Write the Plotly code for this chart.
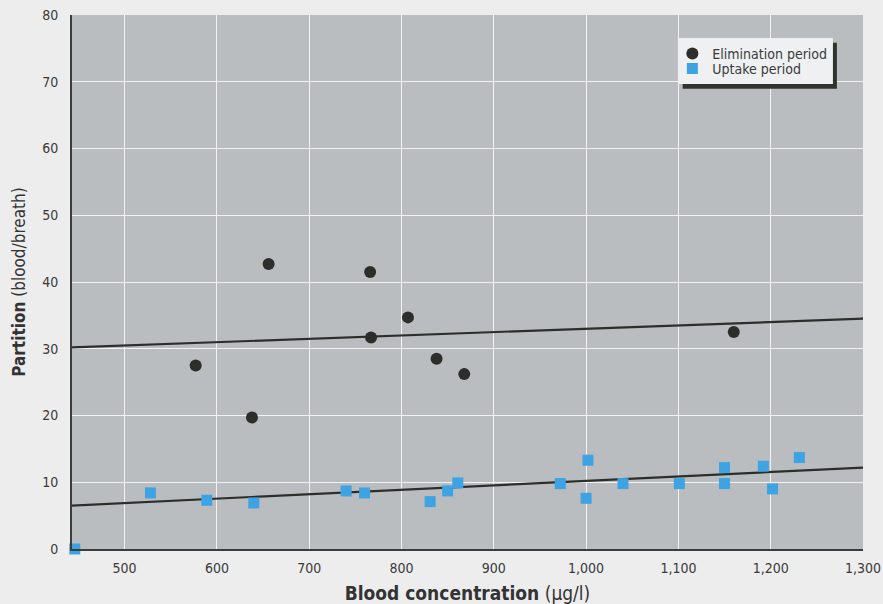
import plotly.graph_objects as go

# ---- data ----
elim_x = [577, 638, 656, 766, 767, 807, 838, 868, 1160]
elim_y = [27.5, 19.7, 42.7, 41.5, 31.7, 34.7, 28.5, 26.2, 32.5]

uptake_x = [446, 528, 589, 640, 740, 760, 831, 850, 861, 972, 1002, 1000,
            1040, 1101, 1150, 1150, 1192, 1202, 1231]
uptake_y = [0.0, 8.4, 7.3, 6.9, 8.7, 8.4, 7.1, 8.7, 9.9, 9.8, 13.3, 7.6,
            9.8, 9.8, 12.2, 9.8, 12.4, 9.0, 13.7]

# regression lines (end points)
elim_fit_x = [443, 1300]
elim_fit_y = [30.2, 34.5]
uptake_fit_x = [443, 1300]
uptake_fit_y = [6.5, 12.2]

x_tick_vals = [500, 600, 700, 800, 900, 1000, 1100, 1200, 1300]
x_tick_text = ["500", "600", "700", "800", "900", "1,000", "1,100", "1,200", "1,300"]
y_tick_vals = [0, 10, 20, 30, 40, 50, 60, 70, 80]

FONT = "Liberation Sans Narrow, DejaVu Sans Condensed, Arial Narrow, sans-serif"
DARK = "#2b2e2a"
BLUE = "#3da3e2"

fig = go.Figure()
fig.add_trace(go.Scatter(x=elim_fit_x, y=elim_fit_y, mode="lines",
                         line=dict(color=DARK, width=2.2), showlegend=False,
                         hoverinfo="skip"))
fig.add_trace(go.Scatter(x=uptake_fit_x, y=uptake_fit_y, mode="lines",
                         line=dict(color=DARK, width=2.2), showlegend=False,
                         hoverinfo="skip"))
fig.add_trace(go.Scatter(x=elim_x, y=elim_y, mode="markers", name="Elimination period",
                         marker=dict(symbol="circle", size=12, color=DARK),
                         cliponaxis=False, legend="legend"))
fig.add_trace(go.Scatter(x=uptake_x, y=uptake_y, mode="markers", name="Uptake period",
                         marker=dict(symbol="square", size=11, color=BLUE),
                         cliponaxis=False, legend="legend2"))

# legend box with drop shadow
fig.add_shape(type="rect", xref="paper", yref="paper", x0=0.772, x1=0.967,
              y0=0.862, y1=0.948, fillcolor="#2f332d", line=dict(width=0), layer="above")
fig.add_shape(type="rect", xref="paper", yref="paper", x0=0.766, x1=0.962,
              y0=0.871, y1=0.957, fillcolor="#eef0f2", line=dict(width=0), layer="above")

legend_common = dict(xanchor="left", yanchor="middle", bgcolor="rgba(0,0,0,0)",
                     borderwidth=0, itemwidth=30,
                     font=dict(family=FONT, size=14, color="#3a3a3a"))

fig.update_layout(
    width=883, height=604,
    margin=dict(l=72, r=20, t=15, b=55),
    paper_bgcolor="#ededee",
    plot_bgcolor="#babdbf",
    font=dict(family=FONT, size=14, color="#333333"),
    legend=dict(x=0.759, y=0.927, **legend_common),
    legend2=dict(x=0.759, y=0.899, **legend_common),
    xaxis=dict(range=[443, 1300], tickvals=x_tick_vals, ticktext=x_tick_text,
               automargin=False,
               showgrid=True, gridcolor="#f2f2f2", gridwidth=1, zeroline=False,
               showline=True, linecolor="#3a3d3a", linewidth=2, ticks="",
               ticklabelstandoff=5,
               tickfont=dict(family=FONT, size=14, color="#3a3a3a"),
               title=dict(text="<b>Blood concentration</b> (µg/l)",
                          font=dict(family=FONT, size=19, color="#333333"),
                          standoff=17)),
    yaxis=dict(range=[0, 80], tickvals=y_tick_vals, automargin=False,
               showgrid=True, gridcolor="#f2f2f2", gridwidth=1, zeroline=False,
               showline=True, linecolor="#3a3d3a", linewidth=2, ticks="",
               ticklabelstandoff=9,
               tickfont=dict(family=FONT, size=14, color="#3a3a3a"),
               title=dict(text="<b>Partition</b> (blood/breath)",
                          font=dict(family=FONT, size=17, color="#333333"),
                          standoff=12)),
)

fig.write_html("out.html")
